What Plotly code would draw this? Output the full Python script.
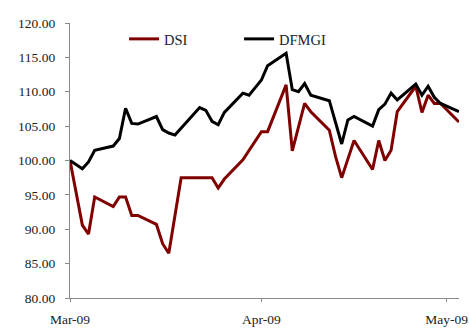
import plotly.graph_objects as go

# Trading days (Sun-Thu), March to early May 2009
dates = [
    "2009-03-01", "2009-03-02", "2009-03-03", "2009-03-04", "2009-03-05",
    "2009-03-08", "2009-03-09", "2009-03-10", "2009-03-11", "2009-03-12",
    "2009-03-15", "2009-03-16", "2009-03-17", "2009-03-18", "2009-03-19",
    "2009-03-22", "2009-03-23", "2009-03-24", "2009-03-25", "2009-03-26",
    "2009-03-29", "2009-03-30", "2009-03-31", "2009-04-01", "2009-04-02",
    "2009-04-05", "2009-04-06", "2009-04-07", "2009-04-08", "2009-04-09",
    "2009-04-12", "2009-04-13", "2009-04-14", "2009-04-15", "2009-04-16",
    "2009-04-19", "2009-04-20", "2009-04-21", "2009-04-22", "2009-04-23",
    "2009-04-26", "2009-04-27", "2009-04-28", "2009-04-29", "2009-04-30",
    "2009-05-03",
]

# Indices rebased to 100
dsi = [
    100.0, 95.5, 90.6, 89.3, 94.7,
    93.3, 94.7, 94.7, 92.0, 92.0,
    90.7, 87.9, 86.5, 92.0, 97.5,
    97.5, 97.5, 97.5, 96.0, 97.3,
    100.1, 101.5, 103.0, 104.2, 104.2,
    111.0, 101.4, 104.9, 108.3, 107.1,
    104.4, 100.6, 97.5, 100.2, 102.9,
    98.7, 102.9, 100.0, 101.5, 107.1,
    110.8, 107.0, 109.5, 108.3, 108.3,
    105.6,
]
dfmgi = [
    100.0, 99.4, 98.8, 99.8, 101.5,
    102.1, 103.2, 107.6, 105.4, 105.3,
    106.4, 104.5, 104.0, 103.7, 104.7,
    107.7, 107.3, 105.7, 105.2, 107.0,
    109.8, 109.5, 110.6, 111.7, 113.8,
    115.6, 110.3, 110.0, 111.2, 109.5,
    108.7, 105.4, 102.4, 105.9, 106.4,
    105.0, 107.4, 108.2, 109.8, 108.8,
    111.1, 109.5, 110.8, 109.2, 108.3,
    107.1,
]

month_ticks = ["2009-03-01", "2009-04-01", "2009-05-01"]

font_family = "Liberation Serif, Times New Roman, serif"
axis_grey = "#8a8a8a"

fig = go.Figure()
fig.add_trace(go.Scatter(x=dates, y=dsi, name="DSI", mode="lines",
                         line=dict(color="#800000", width=3)))
fig.add_trace(go.Scatter(x=dates, y=dfmgi, name="DFMGI", mode="lines",
                         line=dict(color="#000000", width=3)))

fig.update_layout(
    width=469, height=329,
    margin=dict(l=70, r=10, t=23, b=31, autoexpand=False),
    paper_bgcolor="white", plot_bgcolor="white",
    font=dict(family=font_family, size=13.5, color="#222222"),
    showlegend=True,
    legend=dict(orientation="h", x=0.139, xanchor="left", y=0.942, yanchor="middle",
                bgcolor="rgba(0,0,0,0)", font=dict(size=14.5, color="#222222"),
                entrywidth=70, entrywidthmode="pixels", itemwidth=30),
    xaxis=dict(type="date", range=["2009-03-01", "2009-05-03"],
               tickvals=month_ticks, tickformat="%b-%y",
               showgrid=False, zeroline=False, automargin=False,
               showline=True, linecolor=axis_grey, linewidth=1.3,
               ticks="outside", ticklen=3, tickcolor=axis_grey, tickwidth=1,
               ticklabelstandoff=6),
    yaxis=dict(range=[80, 120], dtick=5, tick0=80, tickformat=".2f",
               showgrid=False, zeroline=False, automargin=False,
               showline=True, linecolor=axis_grey, linewidth=1.3,
               ticks="outside", ticklen=4, tickcolor=axis_grey, tickwidth=1,
               ticklabelstandoff=7),
)

fig.write_html("out.html")
